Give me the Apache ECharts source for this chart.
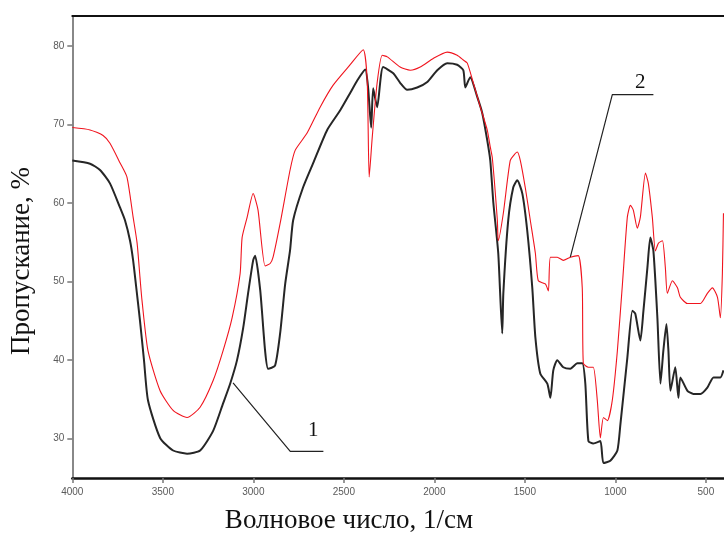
<!DOCTYPE html>
<html><head><meta charset="utf-8">
<script src="https://cdn.jsdelivr.net/npm/echarts@6/dist/echarts.min.js"></script>
<style>html,body{margin:0;padding:0;background:#fff}#c{width:724px;height:534px}</style>
</head><body><div id="c"></div>
<script>
// Curve 2 (red)
const redWavenumber = [4000,3902,3830,3792,3736,3698,3664,3642,3626,3615,3582,3515,3443,3366,3294,3222,3167,3117,3073,3062,3034,3001,2974,2935,2907,2891,2852,2797,2769,2703,2631,2559,2465,2393,2371,2360,2343,2316,2288,2260,2189,2133,2078,2006,1929,1874,1840,1818,1785,1746,1708,1691,1680,1652,1647,1619,1581,1553,1542,1525,1498,1470,1442,1426,1387,1370,1359,1321,1288,1249,1205,1183,1177,1149,1122,1100,1083,1066,1044,1017,989,961,934,917,901,879,862,834,818,796,779,762,740,724,713,685,657,641,602,569,530,492,464,436,420,409,403];
const redTransmittance = [69.6,69.3,68.6,67.6,65.1,63.3,58.2,54.9,50.5,47.6,41.2,36.1,33.6,32.7,34.0,37.4,41.2,45.4,51.0,55.6,58.2,61.2,59.1,52.0,52.3,53.1,57.4,64.2,66.7,68.9,72.2,75.0,77.6,79.5,75.6,63.3,68.4,75.3,78.8,78.6,77.3,76.9,77.3,78.4,79.2,78.8,78.2,77.8,75.3,72.2,69.3,67.1,65.8,57.8,55.2,58.7,65.4,66.3,66.5,65.4,62.0,57.8,53.6,50.1,49.7,48.8,53.1,53.1,52.7,53.1,53.3,49.2,39.6,39.1,39.1,34.9,30.1,32.7,32.3,34.9,41.2,49.7,58.2,59.7,59.1,56.8,58.2,63.8,62.5,58.2,53.9,54.9,55.2,51.8,48.5,50.1,49.2,48.0,47.2,47.2,47.2,48.5,49.2,48.0,45.4,51.0,58.7];
// Curve 1 (black)
const blackWavenumber = [4000,3902,3847,3792,3736,3709,3681,3664,3648,3626,3604,3582,3515,3443,3366,3294,3222,3167,3128,3090,3056,3029,3001,2990,2962,2935,2918,2880,2852,2824,2797,2780,2725,2669,2592,2520,2465,2426,2382,2366,2349,2338,2316,2283,2227,2189,2150,2095,2039,1984,1929,1874,1840,1829,1802,1763,1735,1708,1691,1674,1647,1625,1619,1592,1564,1542,1514,1487,1459,1442,1415,1376,1359,1343,1321,1288,1249,1210,1183,1166,1149,1122,1083,1066,1028,989,972,934,906,890,862,845,823,807,790,768,751,735,718,707,696,669,652,641,602,569,530,492,458,420,403];
const blackTransmittance = [65.4,65.0,64.2,62.5,59.4,57.8,55.2,52.7,49.5,45.0,40.0,34.9,30.1,28.5,28.1,28.5,31.0,34.5,37.0,40.0,44.1,48.5,52.7,53.3,48.9,41.2,38.9,39.3,43.4,49.7,54.0,57.8,62.0,65.1,69.3,71.8,74.0,75.6,77.0,74.7,69.6,74.6,72.2,77.3,76.5,75.3,74.4,74.7,75.4,76.9,77.8,77.6,76.9,74.7,76.0,73.5,71.4,68.0,65.4,60.0,53.6,43.4,48.5,57.8,62.0,62.9,61.2,56.5,49.2,42.9,38.3,37.0,35.2,38.7,40.0,39.1,38.9,39.6,39.6,37.0,29.7,29.4,29.7,26.9,27.2,28.5,31.9,40.3,46.3,45.9,42.5,46.3,51.8,55.6,53.9,45.4,37.0,41.2,44.6,41.2,36.1,39.1,35.2,37.8,36.1,35.7,35.7,36.5,37.8,37.8,38.7];
// Tick labels
const xTicks = [4000,3500,3000,2500,2000,1500,1000,500];
const yTicks = [30,40,50,60,70,80];
// Annotation pointers (data coordinates: tip, elbow, end) and labels
const pointer1 = [[3112,37.1],[2796,28.4],[2613,28.4]];
const pointer2 = [[1249,53.1],[1017,73.8],[790,73.8]];
const label1 = {text:'1', at:[2669,31.0]};
const label2 = {text:'2', at:[862,75.4]};
const xTitle = 'Волновое число, 1/см';
const yTitle = 'Пропускание, %';

const zip = (a,b) => a.map((v,i)=>[v,b[i]]);
const chart = echarts.init(document.getElementById('c'), null, {renderer:'canvas'});
const tickFont = {color:'#5a5a5a', fontSize:10, fontFamily:'Liberation Sans, Arial, sans-serif', formatter:(v)=>String(v)};
chart.setOption({
  animation:false,
  backgroundColor:'#fff',
  grid:{left:72.3, right:0, top:16, bottom:56, containLabel:false},
  xAxis:[{
    type:'value', inverse:true, min:400, max:4000,
    axisLine:{show:true, onZero:false, lineStyle:{color:'#111', width:2.5}},
    axisTick:{show:true, inside:false, length:5, customValues:xTicks, lineStyle:{color:'#777', width:1.5}},
    axisLabel:{show:true, customValues:xTicks, margin:9, ...tickFont},
    splitLine:{show:false}
  },{
    type:'value', position:'top', inverse:true, min:400, max:4000,
    axisLine:{show:true, lineStyle:{color:'#111', width:2}},
    axisTick:{show:false}, axisLabel:{show:false}, splitLine:{show:false}
  }],
  yAxis:{
    type:'value', min:25, max:83.8,
    axisLine:{show:true, onZero:false, lineStyle:{color:'#888', width:2}},
    axisTick:{show:true, length:5, customValues:yTicks, lineStyle:{color:'#777', width:1.5}},
    axisLabel:{show:true, customValues:yTicks, margin:8, ...tickFont},
    splitLine:{show:false}
  },
  series:[
    {type:'line', name:'1', data:zip(blackWavenumber, blackTransmittance), showSymbol:false, smooth:0.2,
     lineStyle:{color:'#262626', width:2}, itemStyle:{color:'#262626'}, z:3},
    {type:'line', name:'2', data:zip(redWavenumber, redTransmittance), showSymbol:false, smooth:0.2,
     lineStyle:{color:'#f0141e', width:1.1}, itemStyle:{color:'#f0141e'}, z:4},
    {type:'line', data:pointer1, showSymbol:false, lineStyle:{color:'#222', width:1.2}, z:5},
    {type:'line', data:pointer2, showSymbol:false, lineStyle:{color:'#222', width:1.2}, z:5}
  ]
});
const p1 = chart.convertToPixel({gridIndex:0}, label1.at);
const p2 = chart.convertToPixel({gridIndex:0}, label2.at);
const serif = 'Liberation Serif, Times New Roman, serif';
chart.setOption({graphic:[
  {type:'text', x:p1[0], y:p1[1], style:{text:label1.text, font:'21px '+serif, fill:'#111', align:'center', verticalAlign:'middle'}},
  {type:'text', x:p2[0], y:p2[1], style:{text:label2.text, font:'21px '+serif, fill:'#111', align:'center', verticalAlign:'middle'}},
  {type:'text', x:349, y:521, style:{text:xTitle, font:'27px '+serif, fill:'#111', align:'center', verticalAlign:'middle'}},
  {type:'text', x:22, y:261, rotation:Math.PI/2, style:{text:yTitle, font:'27px '+serif, fill:'#111', align:'center', verticalAlign:'middle'}}
]});
</script></body></html>
